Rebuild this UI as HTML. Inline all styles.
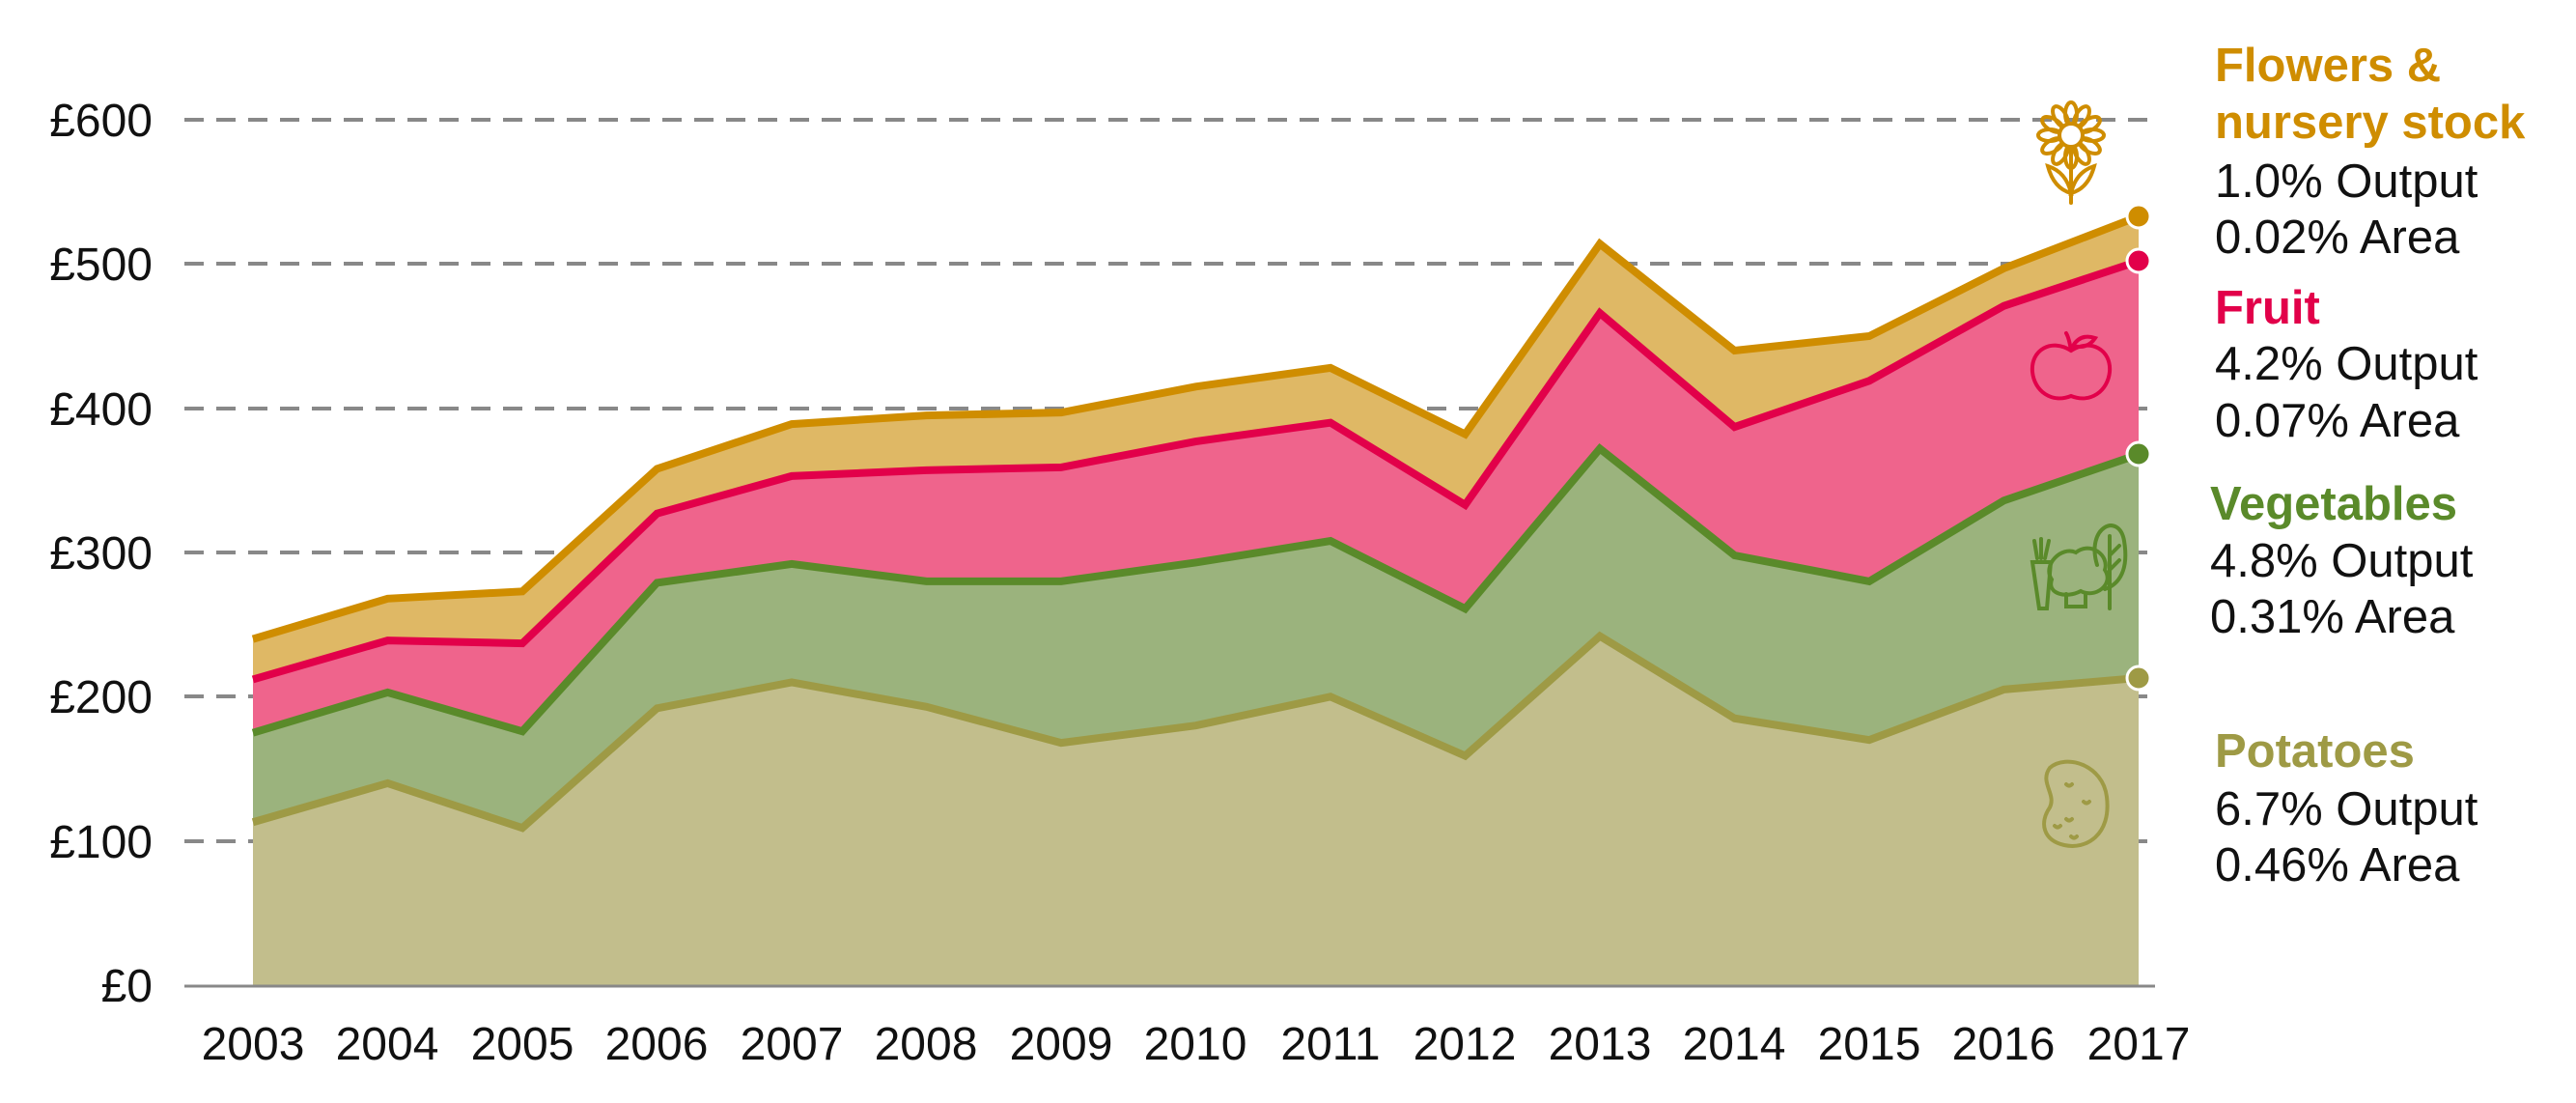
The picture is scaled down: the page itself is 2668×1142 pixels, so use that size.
<!DOCTYPE html>
<html><head><meta charset="utf-8"><style>
html,body{margin:0;padding:0;background:#fff;}
svg{display:block;}
text{font-family:"Liberation Sans",sans-serif;}
</style></head><body>
<svg width="2668" height="1142" viewBox="0 0 2668 1142" xmlns="http://www.w3.org/2000/svg">
<g stroke="#888" stroke-width="4" stroke-dasharray="20 13">
<line x1="191" y1="124" x2="2232" y2="124"/>
<line x1="191" y1="273" x2="2232" y2="273"/>
<line x1="191" y1="423" x2="2232" y2="423"/>
<line x1="191" y1="572" x2="2232" y2="572"/>
<line x1="191" y1="721" x2="2232" y2="721"/>
<line x1="191" y1="871" x2="2232" y2="871"/>
</g>
<g font-size="48" fill="#111" text-anchor="end">
<text x="158" y="141">£600</text>
<text x="158" y="290">£500</text>
<text x="158" y="440">£400</text>
<text x="158" y="589">£300</text>
<text x="158" y="738">£200</text>
<text x="158" y="888">£100</text>
<text x="158" y="1037">£0</text>
</g>
<g transform="translate(262,1020) scale(139.5,-1.4933)">
<polygon fill="#dfb865" points="0,0 0,240 1,268 2,273 3,358 4,389 5,395 6,397 7,415 8,428 9,382 10,514 11,440 12,450 13,497 14,533 14,0"/>
<polygon fill="#ef648c" points="0,0 0,212 1,239 2,237 3,327 4,353 5,357 6,359 7,377 8,390 9,333 10,466 11,387 12,419 13,471 14,502 14,0"/>
<polygon fill="#9bb37d" points="0,0 0,175 1,203 2,176 3,279 4,292 5,280 6,280 7,293 8,308 9,261 10,372 11,298 12,280 13,336 14,368 14,0"/>
<polygon fill="#c2be8c" points="0,0 0,113 1,140 2,109 3,192 4,210 5,193 6,168 7,180 8,200 9,159 10,242 11,185 12,170 13,205 14,213 14,0"/>
<polyline fill="none" vector-effect="non-scaling-stroke" stroke="#cf8d00" stroke-width="8" points="0,240 1,268 2,273 3,358 4,389 5,395 6,397 7,415 8,428 9,382 10,514 11,440 12,450 13,497 14,533"/>
<polyline fill="none" vector-effect="non-scaling-stroke" stroke="#e2004a" stroke-width="8" points="0,212 1,239 2,237 3,327 4,353 5,357 6,359 7,377 8,390 9,333 10,466 11,387 12,419 13,471 14,502"/>
<polyline fill="none" vector-effect="non-scaling-stroke" stroke="#5a8a2a" stroke-width="8" points="0,175 1,203 2,176 3,279 4,292 5,280 6,280 7,293 8,308 9,261 10,372 11,298 12,280 13,336 14,368"/>
<polyline fill="none" vector-effect="non-scaling-stroke" stroke="#9e9a45" stroke-width="8" points="0,113 1,140 2,109 3,192 4,210 5,193 6,168 7,180 8,200 9,159 10,242 11,185 12,170 13,205 14,213"/>
</g>
<line x1="191" y1="1021" x2="2232" y2="1021" stroke="#888" stroke-width="3"/>
<g stroke="#fff" stroke-width="3">
<circle cx="2215" cy="224" r="12" fill="#cf8d00"/>
<circle cx="2215" cy="270" r="12" fill="#e2004a"/>
<circle cx="2215" cy="470" r="12" fill="#5a8a2a"/>
<circle cx="2215" cy="702" r="12" fill="#9e9a45"/>
</g>
<g font-size="48" fill="#111" text-anchor="middle">
<text x="262" y="1097">2003</text><text x="401" y="1097">2004</text><text x="541" y="1097">2005</text>
<text x="680" y="1097">2006</text><text x="820" y="1097">2007</text><text x="959" y="1097">2008</text>
<text x="1099" y="1097">2009</text><text x="1238" y="1097">2010</text><text x="1378" y="1097">2011</text>
<text x="1517" y="1097">2012</text><text x="1657" y="1097">2013</text><text x="1796" y="1097">2014</text>
<text x="1936" y="1097">2015</text><text x="2075" y="1097">2016</text><text x="2215" y="1097">2017</text>
</g>
<g fill="none" stroke="#cf8d00" stroke-width="4" stroke-linecap="round">
<g transform="translate(2145,140)">
<ellipse cx="0" cy="-22" rx="6" ry="12"/>
<ellipse cx="0" cy="-22" rx="6" ry="12" transform="rotate(30)"/>
<ellipse cx="0" cy="-22" rx="6" ry="12" transform="rotate(60)"/>
<ellipse cx="0" cy="-22" rx="6" ry="12" transform="rotate(90)"/>
<ellipse cx="0" cy="-22" rx="6" ry="12" transform="rotate(120)"/>
<ellipse cx="0" cy="-22" rx="6" ry="12" transform="rotate(150)"/>
<ellipse cx="0" cy="-22" rx="6" ry="12" transform="rotate(180)"/>
<ellipse cx="0" cy="-22" rx="6" ry="12" transform="rotate(210)"/>
<ellipse cx="0" cy="-22" rx="6" ry="12" transform="rotate(240)"/>
<ellipse cx="0" cy="-22" rx="6" ry="12" transform="rotate(270)"/>
<ellipse cx="0" cy="-22" rx="6" ry="12" transform="rotate(300)"/>
<ellipse cx="0" cy="-22" rx="6" ry="12" transform="rotate(330)"/>
<circle cx="0" cy="0" r="12" fill="#fff"/>
<line x1="0" y1="12" x2="0" y2="70"/>
<path d="M0,60 Q-5,38 -24,32 Q-18,55 0,60 Z"/>
<path d="M0,60 Q5,38 24,32 Q18,55 0,60 Z"/>
</g>
</g>
<g fill="none" stroke="#e2004a" stroke-width="4" stroke-linecap="round">
<path d="M2145,363 C2125,350 2103,362 2105,385 C2107,405 2125,418 2145,410 C2165,418 2183,405 2185,385 C2187,362 2165,350 2145,363 Z"/>
<path d="M2145,363 Q2143,350 2140,345"/>
<path d="M2147,358 Q2155,345 2170,350 Q2162,362 2147,358 Z"/>
</g>
<g fill="none" stroke="#5a8a2a" stroke-width="4" stroke-linecap="round">
<path d="M2105,582 L2112,630 L2120,630 L2124,582 Z"/>
<path d="M2107,560 L2110,578 M2114,558 L2114,578 M2122,560 L2118,578"/>
<path d="M2125,600 C2115,585 2135,565 2150,572 C2165,560 2185,575 2180,590 C2190,605 2170,620 2155,612 C2140,620 2120,615 2125,600 Z"/>
<path d="M2140,615 L2140,628 L2160,628 L2160,615"/>
<path d="M2172,585 C2160,545 2195,530 2200,560 C2205,590 2195,605 2180,610"/>
<path d="M2185,555 L2185,630 M2185,575 L2195,565 M2185,590 L2195,580"/>
</g>
<g fill="none" stroke="#9e9a45" stroke-width="4" stroke-linecap="round">
<path d="M2123,795 C2140,780 2178,792 2182,825 C2187,865 2160,880 2138,875 C2116,870 2112,852 2123,836 C2130,822 2112,810 2123,795 Z"/>
<path d="M2140,812 q3,3 6,0 M2158,830 q3,3 6,0 M2140,848 q3,3 6,0 M2128,855 q3,3 6,0 M2145,866 q3,3 6,0"/>
</g>
<g font-size="49">
<text x="2294" y="84" fill="#cf8d00" font-weight="bold">Flowers &amp;</text>
<text x="2294" y="143" fill="#cf8d00" font-weight="bold">nursery stock</text>
<text x="2294" y="204" fill="#111">1.0% Output</text>
<text x="2294" y="262" fill="#111">0.02% Area</text>
<text x="2294" y="335" fill="#e2004a" font-weight="bold">Fruit</text>
<text x="2294" y="393" fill="#111">4.2% Output</text>
<text x="2294" y="452" fill="#111">0.07% Area</text>
<text x="2289" y="538" fill="#5a8a2a" font-weight="bold">Vegetables</text>
<text x="2289" y="597" fill="#111">4.8% Output</text>
<text x="2289" y="655" fill="#111">0.31% Area</text>
<text x="2294" y="794" fill="#9e9a45" font-weight="bold">Potatoes</text>
<text x="2294" y="854" fill="#111">6.7% Output</text>
<text x="2294" y="912" fill="#111">0.46% Area</text>
</g>
</svg>
</body></html>
